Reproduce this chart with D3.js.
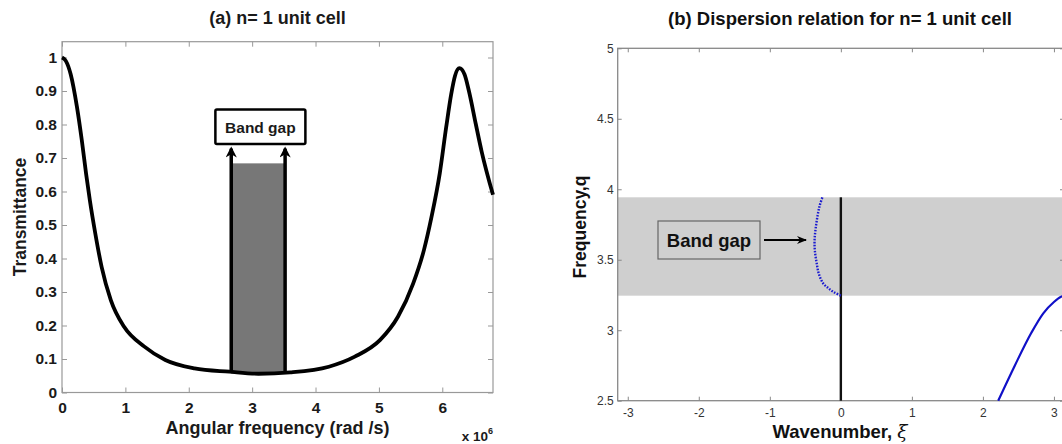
<!DOCTYPE html>
<html>
<head>
<meta charset="utf-8">
<script src="https://cdn.jsdelivr.net/npm/d3@7/dist/d3.min.js"></script>
<style>
  body { margin: 0; background: #fff; }
  svg { font-family: Arial, "Liberation Sans", sans-serif; }
</style>
</head>
<body>
<div id="canvas"></div>
<script>
// panel (a): transmittance vs angular frequency (x 10^6 rad/s)
const freq = [0, 0.06, 0.137, 0.237, 0.313, 0.38, 0.44, 0.526, 0.625, 0.77, 0.98, 1.3, 1.63, 2.09, 2.64, 3.1, 3.6, 4.21, 4.62, 5.02, 5.3, 5.54, 5.71, 5.83, 5.96, 6.06, 6.14, 6.2, 6.27, 6.35, 6.42, 6.53, 6.62, 6.8];
const trans = [1.0, 0.99, 0.95, 0.851, 0.752, 0.653, 0.573, 0.474, 0.375, 0.276, 0.196, 0.137, 0.097, 0.072, 0.062, 0.056, 0.06, 0.077, 0.107, 0.157, 0.226, 0.325, 0.425, 0.524, 0.654, 0.79, 0.89, 0.945, 0.968, 0.95, 0.9, 0.8, 0.72, 0.59];
const gapA = [2.67, 3.52];      // band gap edges (x 10^6)
const gapTop = 0.684;
const xTicksA = [0, 1, 2, 3, 4, 5, 6];
const yTicksA = [0, 0.1, 0.2, 0.3, 0.4, 0.5, 0.6, 0.7, 0.8, 0.9, 1];

// panel (b): dispersion relation
const gapB = [3.245, 3.943];
const dotXi = [0, -0.1, -0.18, -0.25, -0.31, -0.34, -0.365, -0.37, -0.355, -0.33, -0.3, -0.26];
const dotQ = [3.245, 3.27, 3.3, 3.333, 3.4, 3.475, 3.56, 3.64, 3.72, 3.806, 3.88, 3.943];
const solXi = [2.216, 2.45, 2.68, 2.85, 3.0, 3.1, Math.PI];
const solQ = [2.5, 2.75, 2.98, 3.12, 3.2, 3.237, 3.245];
const xTicksB = [-3, -2, -1, 0, 1, 2, 3];
const yTicksB = [2.5, 3, 3.5, 4, 4.5, 5];

const W = 1062, H = 444;
const svg = d3.select('#canvas').append('svg').attr('width', W).attr('height', H);
const defs = svg.append('defs');

// ---------- panel (a) ----------
const xA = d3.scaleLinear().domain([0, 6.8]).range([62, 493]);
const yA = d3.scaleLinear().domain([0, 1]).range([392.5, 57.5]);
const yMaxA = yA.invert(41.7);

const frameA = svg.append('g');
frameA.append('rect')
  .attr('x', xA(0)).attr('y', yA(yMaxA))
  .attr('width', xA(6.8) - xA(0)).attr('height', yA(0) - yA(yMaxA))
  .attr('fill', 'none').attr('stroke', '#999').attr('stroke-width', 1.2);

const axA = (g, axis) => g.call(axis).call(s => s.select('.domain').remove())
  .call(s => s.selectAll('line').attr('stroke', '#999'))
  .call(s => s.selectAll('text').attr('fill', '#1a1a1a').attr('font-size', '15.5px').attr('font-weight', 'bold'));

frameA.append('g').attr('transform', `translate(0,${yA(0)})`)
  .call(g => axA(g, d3.axisBottom(xA).tickValues(xTicksA).tickSize(-5).tickPadding(9).tickFormat(d => String(d))));
frameA.append('g').attr('transform', `translate(0,${yA(yMaxA)})`)
  .call(g => axA(g, d3.axisTop(xA).tickValues(xTicksA).tickSize(-5).tickFormat('')));
frameA.append('g').attr('transform', `translate(${xA(0)},0)`)
  .call(g => axA(g, d3.axisLeft(yA).tickValues(yTicksA).tickSize(-5).tickPadding(5).tickFormat(d => String(d))));
frameA.append('g').attr('transform', `translate(${xA(6.8)},0)`)
  .call(g => axA(g, d3.axisRight(yA).tickValues(yTicksA).tickSize(-5).tickFormat('')));

// band gap rectangle
const curveA = freq.map((f, i) => [f, trans[i]]);
const interp = x => {
  for (let i = 1; i < freq.length; i++) if (freq[i] >= x) {
    const t = (x - freq[i - 1]) / (freq[i] - freq[i - 1]);
    return trans[i - 1] + t * (trans[i] - trans[i - 1]);
  }
  return trans[trans.length - 1];
};
svg.append('rect')
  .attr('x', xA(gapA[0])).attr('y', yA(gapTop))
  .attr('width', xA(gapA[1]) - xA(gapA[0])).attr('height', yA(0.056) - yA(gapTop))
  .attr('fill', '#777');

svg.append('path')
  .datum(curveA)
  .attr('fill', 'none').attr('stroke', '#000').attr('stroke-width', 3.8)
  .attr('d', d3.line().x(d => xA(d[0])).y(d => yA(d[1])).curve(d3.curveMonotoneX));

// arrows
defs.append('marker').attr('id', 'headA').attr('viewBox', '0 0 10 10')
  .attr('refX', 8).attr('refY', 5).attr('markerWidth', 3.2).attr('markerHeight', 3.2)
  .attr('markerUnits', 'strokeWidth').attr('orient', 'auto')
  .append('path').attr('d', 'M0,0 L10,5 L0,10 L3,5 z').attr('fill', '#000');
gapA.forEach(g => {
  svg.append('line')
    .attr('x1', xA(g)).attr('x2', xA(g))
    .attr('y1', yA(interp(g))).attr('y2', yA(0.728))
    .attr('stroke', '#000').attr('stroke-width', 3.5)
    .attr('marker-end', 'url(#headA)');
});
svg.append('rect')
  .attr('x', xA(2.42)).attr('y', yA(0.845))
  .attr('width', xA(3.84) - xA(2.42)).attr('height', yA(0.742) - yA(0.845))
  .attr('fill', '#fff').attr('stroke', '#000').attr('stroke-width', 2.5).attr('rx', 1.5);
svg.append('text').attr('x', (xA(2.42) + xA(3.84)) / 2).attr('y', yA(0.7935) + 6)
  .attr('text-anchor', 'middle').attr('font-size', '15.5px').attr('font-weight', 'bold').attr('fill', '#1a1a1a').text('Band gap');

svg.append('text').attr('x', (xA(0) + xA(6.8)) / 2).attr('y', 24).attr('text-anchor', 'middle')
  .attr('font-size', '18px').attr('font-weight', 'bold').attr('fill', '#1a1a1a').text('(a) n= 1 unit cell');
svg.append('text').attr('x', (xA(0) + xA(6.8)) / 2).attr('y', 434).attr('text-anchor', 'middle')
  .attr('font-size', '18px').attr('font-weight', 'bold').attr('fill', '#1a1a1a').text('Angular frequency (rad /s)');
svg.append('text').attr('transform', 'translate(26,217) rotate(-90)').attr('text-anchor', 'middle')
  .attr('font-size', '17.5px').attr('font-weight', 'bold').attr('fill', '#1a1a1a').text('Transmittance');
const expo = svg.append('text').attr('x', 493).attr('y', 441).attr('text-anchor', 'end')
  .attr('font-size', '13.5px').attr('font-weight', 'bold').attr('fill', '#1a1a1a');
expo.append('tspan').text('x 10');
expo.append('tspan').attr('dy', -7).attr('font-size', '9px').text('6');

// ---------- panel (b) ----------
const xB = d3.scaleLinear().domain([-Math.PI, Math.PI]).range([617.7, 1064]);
const yB = d3.scaleLinear().domain([2.5, 5]).range([400.7, 48.3]);

svg.append('rect')
  .attr('x', xB(-Math.PI)).attr('y', yB(gapB[1]))
  .attr('width', xB(Math.PI) - xB(-Math.PI)).attr('height', yB(gapB[0]) - yB(gapB[1]))
  .attr('fill', '#cfcfcf');

const frameB = svg.append('g');
frameB.append('rect')
  .attr('x', xB(-Math.PI)).attr('y', yB(5))
  .attr('width', xB(Math.PI) - xB(-Math.PI)).attr('height', yB(2.5) - yB(5))
  .attr('fill', 'none').attr('stroke', '#888').attr('stroke-width', 1.3);

const axB = (g, axis) => g.call(axis).call(s => s.select('.domain').remove())
  .call(s => s.selectAll('line').attr('stroke', '#888'))
  .call(s => s.selectAll('text').attr('fill', '#333').attr('font-size', '12px'));

frameB.append('g').attr('transform', `translate(0,${yB(2.5)})`)
  .call(g => axB(g, d3.axisBottom(xB).tickValues(xTicksB).tickSize(-4).tickPadding(8).tickFormat(d => String(d))));
frameB.append('g').attr('transform', `translate(0,${yB(5)})`)
  .call(g => axB(g, d3.axisTop(xB).tickValues(xTicksB).tickSize(-4).tickFormat('')));
frameB.append('g').attr('transform', `translate(${xB(-Math.PI)},0)`)
  .call(g => axB(g, d3.axisLeft(yB).tickValues(yTicksB).tickSize(-4).tickPadding(4).tickFormat(d => String(d))));
frameB.append('g').attr('transform', `translate(${xB(Math.PI)},0)`)
  .call(g => axB(g, d3.axisRight(yB).tickValues(yTicksB).tickSize(-4).tickFormat('')));

// black line at xi = 0
svg.append('line')
  .attr('x1', xB(0)).attr('x2', xB(0)).attr('y1', yB(2.5)).attr('y2', yB(gapB[1]))
  .attr('stroke', '#111').attr('stroke-width', 2.4);

const lineB = d3.line().x(d => xB(d[0])).y(d => yB(d[1])).curve(d3.curveCatmullRom.alpha(0.5));
svg.append('path')
  .datum(dotXi.map((x, i) => [x, dotQ[i]]))
  .attr('fill', 'none').attr('stroke', '#1a1ad0').attr('stroke-width', 2.4)
  .attr('stroke-dasharray', '1.6,1.4').attr('d', lineB);
svg.append('path')
  .datum(solXi.map((x, i) => [x, solQ[i]]))
  .attr('fill', 'none').attr('stroke', '#1010c8').attr('stroke-width', 2.2)
  .attr('d', lineB.curve(d3.curveMonotoneX));

// band gap label
svg.append('rect').attr('x', 658).attr('y', 221).attr('width', 102).attr('height', 38)
  .attr('fill', '#cfcfcf').attr('stroke', '#666').attr('stroke-width', 1.2);
svg.append('text').attr('x', 709).attr('y', 246.5).attr('text-anchor', 'middle')
  .attr('font-size', '18.5px').attr('font-weight', 'bold').attr('fill', '#111').text('Band gap');
defs.append('marker').attr('id', 'headB').attr('viewBox', '0 0 10 10')
  .attr('refX', 9).attr('refY', 5).attr('markerWidth', 5).attr('markerHeight', 5)
  .attr('markerUnits', 'strokeWidth').attr('orient', 'auto')
  .append('path').attr('d', 'M0,1 L10,5 L0,9 L3,5 z').attr('fill', '#000');
svg.append('line').attr('x1', 764).attr('x2', 806).attr('y1', 240).attr('y2', 240)
  .attr('stroke', '#000').attr('stroke-width', 2).attr('marker-end', 'url(#headB)');

svg.append('text').attr('x', 840).attr('y', 25).attr('text-anchor', 'middle')
  .attr('font-size', '18.5px').attr('font-weight', 'bold').attr('fill', '#111').text('(b) Dispersion relation for n= 1 unit cell');
const xl = svg.append('text').attr('x', 840).attr('y', 438).attr('text-anchor', 'middle')
  .attr('font-size', '18.5px').attr('font-weight', 'bold').attr('fill', '#111');
xl.append('tspan').text('Wavenumber, ');
xl.append('tspan').attr('font-style', 'italic').attr('font-weight', 'normal').attr('font-family', 'DejaVu Serif, serif').text('ξ');
svg.append('text').attr('transform', 'translate(586,227) rotate(-90)').attr('text-anchor', 'middle')
  .attr('font-size', '17.5px').attr('font-weight', 'bold').attr('fill', '#111').text('Frequency,q');
</script>
</body>
</html>
